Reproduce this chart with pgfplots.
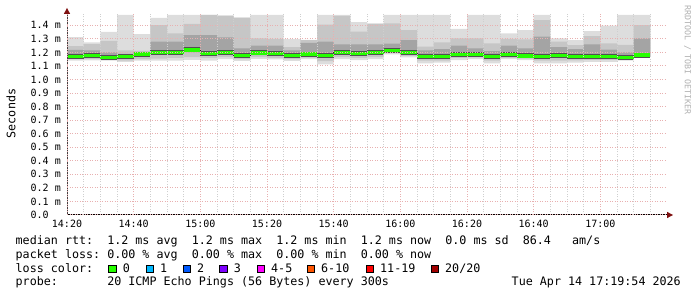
\documentclass[border=0pt]{standalone}
\usepackage{fontspec}
\usepackage{pgfplots}
\pgfplotsset{compat=1.18}
\usepgfplotslibrary{fillbetween}
\usepackage{pgfplotstable}
\setmonofont{DejaVu Sans Mono}
\newfontfamily\rrdmono{DejaVu Sans Mono}
\newcommand\legfont{\rrdmono\fontsize{11.7pt}{14pt}\selectfont}
\newcommand\axfont{\rrdmono\fontsize{10pt}{12pt}\selectfont}
\newcommand\wmfont{\rrdmono\fontsize{8.3pt}{10pt}\selectfont}
\definecolor{smokeA}{HTML}{DDDDDD}
\definecolor{smokeB}{HTML}{C6C6C6}
\definecolor{smokeC}{HTML}{A4A4A4}
\definecolor{meddark}{HTML}{505050}
\definecolor{loss0}{HTML}{26FF00}
\definecolor{loss1}{HTML}{00B8FF}
\definecolor{loss2}{HTML}{0059FF}
\definecolor{loss3}{HTML}{7E00FF}
\definecolor{loss45}{HTML}{FF00FF}
\definecolor{loss610}{HTML}{FF5500}
\definecolor{loss1119}{HTML}{FF0000}
\definecolor{loss20}{HTML}{A10000}
\definecolor{majgrid}{HTML}{E8B0B0}
\definecolor{mingrid}{HTML}{CFCFCF}
\definecolor{arrowred}{HTML}{7F1010}
\definecolor{wmgrey}{HTML}{B0B0B0}
% t = minutes after 14:20; smoke quantile bands and median (ms)
\pgfplotstableread{
t   min   lo2   lo3   med   hi3   hi2   max
0   1.140 1.150 1.160 1.168 1.218 1.247 1.313
5   1.142 1.152 1.165 1.176 1.215 1.262 1.274
10  1.140 1.148 1.157 1.164 1.200 1.286 1.352
15  1.130 1.140 1.158 1.168 1.190 1.215 1.478
20  1.140 1.150 1.170 1.188 1.205 1.212 1.336
25  1.140 1.155 1.185 1.200 1.279 1.402 1.455
30  1.140 1.160 1.185 1.200 1.280 1.341 1.478
35  1.145 1.165 1.200 1.218 1.328 1.410 1.478
40  1.140 1.160 1.175 1.190 1.328 1.478 1.478
45  1.150 1.165 1.185 1.198 1.311 1.471 1.471
50  1.138 1.150 1.165 1.176 1.230 1.456 1.456
55  1.152 1.165 1.180 1.196 1.250 1.304 1.478
60  1.148 1.160 1.178 1.190 1.250 1.300 1.478
65  1.138 1.150 1.165 1.176 1.215 1.240 1.298
70  1.150 1.162 1.175 1.188 1.270 1.290 1.292
75  1.112 1.135 1.165 1.176 1.279 1.405 1.478
80  1.150 1.165 1.185 1.200 1.260 1.470 1.478
85  1.144 1.160 1.180 1.193 1.260 1.353 1.424
90  1.150 1.165 1.185 1.198 1.260 1.410 1.415
95  1.185 1.195 1.205 1.215 1.265 1.415 1.478
100 1.163 1.175 1.190 1.200 1.290 1.365 1.478
105 1.120 1.140 1.158 1.168 1.215 1.242 1.478
110 1.124 1.140 1.158 1.168 1.225 1.274 1.478
115 1.144 1.160 1.175 1.186 1.250 1.304 1.373
120 1.150 1.163 1.175 1.186 1.230 1.304 1.478
125 1.120 1.140 1.160 1.171 1.210 1.267 1.478
130 1.150 1.160 1.175 1.186 1.250 1.300 1.341
135 1.144 1.155 1.165 1.174 1.230 1.297 1.365
140 1.120 1.140 1.158 1.168 1.316 1.439 1.478
145 1.120 1.140 1.165 1.178 1.240 1.280 1.304
150 1.124 1.142 1.158 1.168 1.225 1.254 1.291
155 1.130 1.145 1.158 1.168 1.260 1.321 1.358
160 1.130 1.145 1.158 1.168 1.220 1.267 1.397
165 1.140 1.150 1.155 1.161 1.200 1.255 1.478
170 1.165 1.170 1.175 1.181 1.304 1.402 1.478
175 1.165 1.170 1.175 1.181 1.304 1.402 1.478
}\smoke
\begin{document}\frenchspacing
\begin{tikzpicture}
\begin{axis}[
  at={(67pt,82pt)}, anchor=south west, scale only axis,
  width=600pt, height=200.5pt,
  xmin=0, xmax=180, ymin=0, ymax=1.48,
  axis on top, axis line style={draw=none},
  xtick={0,20,40,60,80,100,120,140,160},
  xticklabels={14:20,14:40,15:00,15:20,15:40,16:00,16:20,16:40,17:00},
  minor xtick={5,10,15,25,30,35,45,50,55,65,70,75,85,90,95,105,110,115,125,130,135,145,150,155,165,170,175},
  ytick={0,0.1,0.2,0.3,0.4,0.5,0.6,0.7,0.8,0.9,1.0,1.1,1.2,1.3,1.4},
  yticklabels={0.0\hphantom{00},0.1 m,0.2 m,0.3 m,0.4 m,0.5 m,0.6 m,0.7 m,0.8 m,0.9 m,1.0 m,1.1 m,1.2 m,1.3 m,1.4 m},
  grid=both,
  major grid style={draw=majgrid, line width=1pt, dash pattern=on 1pt off 1.5pt},
  minor grid style={draw=mingrid, line width=1pt, dash pattern=on 1pt off 1.5pt},
  major tick length=0pt, minor tick length=0pt,
  xticklabel style={font=\axfont, anchor=base, yshift=-13pt},
  yticklabel style={font=\axfont, anchor=east, inner sep=0pt, xshift=-6pt},
]
\addplot[name path=maxp, draw=none, const plot] table[x=t,y=max]{\smoke};
\addplot[name path=minp, draw=none, const plot] table[x=t,y=min]{\smoke};
\addplot[fill=smokeA, draw=none] fill between[of=maxp and minp];
\addplot[name path=hitwo, draw=none, const plot] table[x=t,y=hi2]{\smoke};
\addplot[name path=lotwo, draw=none, const plot] table[x=t,y=lo2]{\smoke};
\addplot[fill=smokeB, draw=none] fill between[of=hitwo and lotwo];
\addplot[name path=hithree, draw=none, const plot] table[x=t,y=hi3]{\smoke};
\addplot[name path=lothree, draw=none, const plot] table[x=t,y=lo3]{\smoke};
\addplot[fill=smokeC, draw=none] fill between[of=hithree and lothree];
\addplot[const plot, draw=black!85, line width=0.8pt] table[x=t,y=med]{\smoke};
\addplot[jump mark left, draw=meddark, line width=5pt] table[x=t,y=med]{\smoke};
\addplot[jump mark left, draw=loss0, line width=3.2pt] table[x=t,y=med]{\smoke};
\end{axis}
% axes with arrows
\draw[line width=1pt, black] (67pt,82pt) -- (669pt,82pt);
\fill[arrowred] (673pt,82pt) -- (667pt,78.8pt) -- (667pt,85.2pt) -- cycle;
\draw[line width=1pt, black!75] (67pt,82pt) -- (67pt,285pt);
\fill[arrowred] (67pt,289pt) -- (63.8pt,283pt) -- (70.2pt,283pt) -- cycle;
% labels
\node[rotate=90, font=\legfont, inner sep=0pt] at (11pt,183.5pt) {Seconds};
\node[rotate=-90, font=\wmfont, text=wmgrey, inner sep=0pt] at (687.5pt,237pt) {RRDTOOL / TOBI OETIKER};
% legend
\node[anchor=base west, inner sep=0pt, font=\legfont] at (15.5pt,52pt) {median rtt:~~1.2 ms avg~~1.2 ms max~~1.2 ms min~~1.2 ms now~~0.0 ms sd~~86.4~~~am/s};
\node[anchor=base west, inner sep=0pt, font=\legfont] at (15.5pt,38.7pt) {packet loss:~0.00 \% avg~~0.00 \% max~~0.00 \% min~~0.00 \% now};
\node[anchor=base west, inner sep=0pt, font=\legfont] at (15.5pt,24.7pt) {loss color:};
\node[anchor=base west, inner sep=0pt, font=\legfont] at (15.5pt,11pt) {probe:~~~~~~~20 ICMP Echo Pings (56 Bytes) every 300s};
\node[anchor=base east, inner sep=0pt, font=\legfont] at (681pt,11pt) {Tue Apr 14 17:19:54 2026};
\foreach \bx/\col/\lab in {108.6/loss0/0, 146/loss1/1, 183/loss2/2, 219.6/loss3/3, 257/loss45/4-5, 307/loss610/6-10, 366/loss1119/11-19, 431/loss20/20\slash 20}{
  \filldraw[fill=\col, draw=black, line width=0.9pt] (\bx pt,24.4pt) rectangle ++(7.6pt,7.6pt);
  \node[anchor=base west, inner sep=0pt, font=\legfont] at (\bx pt+14pt,24.7pt) {\lab};
}
\pgfresetboundingbox
\useasboundingbox (0,0) rectangle (697pt,297pt);
\end{tikzpicture}
\end{document}
